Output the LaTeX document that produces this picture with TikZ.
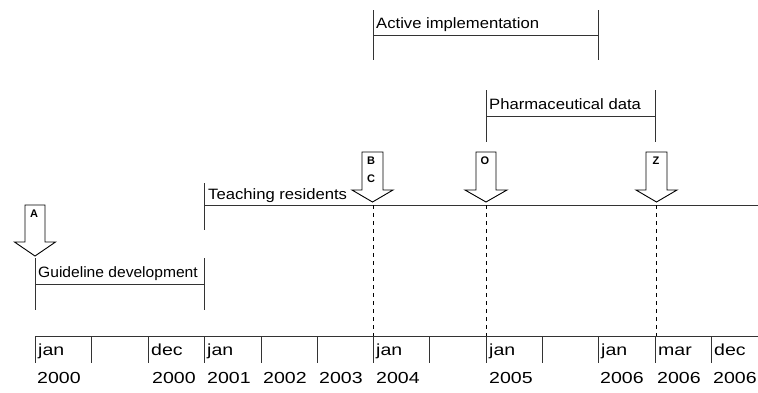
\documentclass[tikz,border=0pt]{standalone}
\usepackage{graphicx}
\usepackage{fontspec}
\setmainfont{Liberation Sans}
\newcommand\bartxt[2][1.11]{\scalebox{#1}[1]{\fontsize{15}{17}\selectfont #2}}
\newcommand\axtxt[1]{\scalebox{1.22}[1]{\fontsize{16}{18}\selectfont #1}}
\newcommand\arrtxt[1]{{\fontsize{11}{12}\selectfont\bfseries #1}}
\begin{document}
\begin{tikzpicture}[x=1pt,y=-1pt,
  line/.style={draw=black!80,line width=1pt},
  dashline/.style={draw=black,line width=0.8pt,dash pattern=on 4pt off 4pt},
  blockarrow/.style={draw=black,line width=0.9pt,fill=white,line join=miter},
  bartext/.style={anchor=base west,inner sep=0pt},
  axtext/.style={anchor=base west,inner sep=0pt},
  arrtext/.style={anchor=center,inner sep=0pt}]
\useasboundingbox (0,0) rectangle (758,392);
% axis ticks
\foreach \n/\x in {t0/35,t1/91,t2/148,t3/204,t4/261,t5/317,t6/373,t7/429,t8/486,t9/542,t10/598,t11/655,t12/711}{
  \coordinate (\n top) at (\x,336);
  \coordinate (\n bot) at (\x,363);
}
\coordinate (axend) at (758,336);
\draw[line] (t0top) -- (axend);
\foreach \n in {t0,t1,t2,t3,t4,t5,t6,t7,t8,t9,t10,t11,t12}{
  \draw[line] (\n top) -- (\n bot);
}
% month labels
\foreach \n/\x/\m in {m0/35/jan,m2/148/dec,m3/204/jan,m6/373/jan,m8/486/jan,m10/598/jan,m11/655/mar,m12/711/dec}{
  \node[axtext] (\n) at (\x+3,355) {\axtxt{\m}};
}
% year labels
\foreach \n/\x/\y in {y0/37/2000,y2/152/2000,y3/207/2001,y4/263/2002,y5/319/2003,y6/376/2004,y8/489/2005,y10/600/2006,y11/657/2006,y12/713/2006}{
  \node[axtext] (\n) at (\x,383) {\axtxt{\y}};
}
% Guideline development
\coordinate (g1) at (35,284); \coordinate (g2) at (204,284);
\draw[line] (g1) -- (g2);
\draw[line] (35,258) -- (35,310);
\draw[line] (204,258) -- (204,310);
\node[bartext] (gl) at (38,277) {\bartxt[1.04]{Guideline development}};
% Teaching residents
\coordinate (tr1) at (204,205); \coordinate (tr2) at (758,205);
\draw[line] (tr1) -- (tr2);
\draw[line] (204,183) -- (204,230);
\node[bartext] (trl) at (208,199) {\bartxt{Teaching residents}};
% Active implementation
\coordinate (ai1) at (373,35); \coordinate (ai2) at (598,35);
\draw[line] (ai1) -- (ai2);
\draw[line] (373,10) -- (373,60);
\draw[line] (598,10) -- (598,60);
\node[bartext] (ail) at (376,28.5) {\bartxt{Active implementation}};
% Pharmaceutical data
\coordinate (pd1) at (486,116); \coordinate (pd2) at (655,116);
\draw[line] (pd1) -- (pd2);
\draw[line] (486,90) -- (486,142);
\draw[line] (655,90) -- (655,142);
\node[bartext] (pdl) at (489,109.5) {\bartxt{Pharmaceutical data}};
% dashed lines
\coordinate (d6) at (373,205); \coordinate (d8) at (486,205); \coordinate (d11) at (656,205);
\draw[dashline] (d6) -- (t6top);
\draw[dashline] (d8) -- (t8top);
\draw[dashline] (d11) -- (656,336);
% block arrows
\draw[blockarrow] (25,205) -- (45,205) -- (45,242) -- (55.5,242) -- (35,256) -- (14.5,242) -- (25,242) -- cycle;
\node[arrtext] (la) at (34,214) {\arrtxt{A}};
\draw[blockarrow] (362,152) -- (383,152) -- (383,190) -- (393,190) -- (372.5,202) -- (352,190) -- (362,190) -- cycle;
\node[arrtext] (lb) at (371,160.5) {\arrtxt{B}};
\node[arrtext] (lc) at (371,179) {\arrtxt{C}};
\draw[blockarrow] (476,152) -- (496,152) -- (496,190) -- (507,190) -- (486,202) -- (465,190) -- (476,190) -- cycle;
\node[arrtext] (lo) at (485,160.5) {\arrtxt{O}};
\draw[blockarrow] (646,152) -- (667,152) -- (667,190) -- (677,190) -- (656.5,202) -- (636,190) -- (646,190) -- cycle;
\node[arrtext] (lz) at (656,160.5) {\arrtxt{Z}};
\end{tikzpicture}
\end{document}
